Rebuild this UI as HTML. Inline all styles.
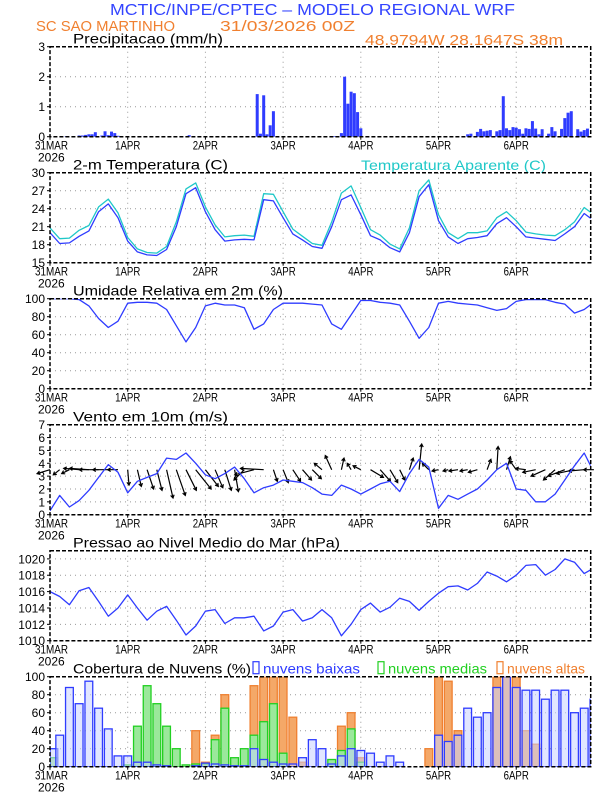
<!DOCTYPE html>
<html><head><meta charset="utf-8">
<style>
html,body{margin:0;padding:0;background:#fff;}
svg{display:block;font-family:"Liberation Sans",sans-serif;}
</style></head>
<body>
<svg id="chart" width="612" height="792" viewBox="0 0 612 792" xmlns="http://www.w3.org/2000/svg">
<text x="110" y="15" font-size="16" fill="#3344ff" textLength="405" lengthAdjust="spacingAndGlyphs">MCTIC/INPE/CPTEC – MODELO REGIONAL WRF</text>
<text x="36" y="31" font-size="15" fill="#f08030" textLength="139" lengthAdjust="spacingAndGlyphs">SC SAO MARTINHO</text>
<text x="220" y="31" font-size="15" fill="#f08030" textLength="135" lengthAdjust="spacingAndGlyphs">31/03/2026 00Z</text>
<text x="365" y="45" font-size="15" fill="#f08030" textLength="198" lengthAdjust="spacingAndGlyphs">48.9794W 28.1647S 38m</text>
</svg>
<script>
// ---------- data ----------
const dayLabels = ["31MAR","1APR","2APR","3APR","4APR","5APR","6APR"];
const precipHours = [5,9,10,11,12,13,14,16,17,18,19,20,21,43,64,65,66,67,68,69,88,90,91,92,93,94,95,96,129,130,132,133,134,135,136,138,139,140,141,142,143,144,145,146,147,148,149,150,151,152,154,155,156,158,159,160,161,163,164,165,166];
const precipVals  = [0.02,0.04,0.04,0.06,0.08,0.08,0.15,0.04,0.18,0.05,0.17,0.12,0.03,0.05,1.42,0.1,1.38,0.08,0.38,0.85,0.02,0.12,2.0,1.1,1.5,1.45,0.82,0.28,0.08,0.1,0.16,0.26,0.18,0.2,0.22,0.18,0.22,1.35,0.28,0.22,0.32,0.3,0.25,0.1,0.28,0.26,0.52,0.27,0.08,0.25,0.1,0.32,0.18,0.26,0.62,0.8,0.85,0.25,0.17,0.22,0.27];
const tempVals = [20,18.2,18.3,19.4,20.3,23.5,24.8,22.5,18.6,16.8,16.3,16.2,17.2,21,26.5,27.5,23.5,20.5,18.6,18.8,18.9,18.8,25.5,25.3,22.5,19.8,18.8,17.7,17.4,21,25.5,26.3,23,19.5,18.8,17.5,16.8,20,26,28,22,19.3,18.2,19,19.2,19.5,21.5,22.5,21,19.3,19.1,18.9,18.7,19.8,21,23.2,22,19.2];
const appTempVals = [20.8,19,19.1,20.4,21.2,24.3,25.6,23.3,19.2,17.3,16.7,16.6,17.7,21.8,27.3,28.3,24.3,21.3,19.3,19.5,19.6,19.4,26.5,26.4,23.5,20.6,19.4,18.2,17.9,21.8,26.6,27.8,24.2,20.5,19.6,18.1,17.3,20.8,27,28.8,23,20,19,20,20,20.3,22.5,23.5,22,20.1,19.8,19.6,19.5,20.5,21.8,24.2,23,20.2];
const rhVals = [100,100,100,99,92,78,68,75,95,96,96,95,88,70,52,68,92,95,93,93,90,66,72,88,95,95,95,94,93,72,66,82,98,98,96,95,93,75,56,68,95,97,95,94,93,90,87,89,97,99,99,99,96,94,84,88,96];
const windSpeed = [0.3,1.5,0.6,1.1,1.9,2.9,3.9,3.3,1.7,2.6,2.9,3.2,4.4,4.3,4.8,4.0,3.1,2.8,3.2,3.7,2.8,1.7,2.1,2.3,2.7,2.6,2.5,2.1,1.6,1.5,2.3,2.0,1.6,2.0,2.4,2.6,1.8,3.2,4.3,3.7,0.5,1.5,1.2,1.6,2.0,2.7,3.5,4.0,2.0,1.9,1.0,1.0,1.6,2.7,3.8,4.8,3.3];
const windU = [-1,-0.5,-0.6,-1.2,-1.5,-1.5,-1.2,-0.8,0.1,0.3,0.5,0.4,0.5,0.7,0.8,1.2,1.0,0.6,0.5,0.3,-0.8,-1.5,-1.8,0.3,0.4,0.6,0.7,0.7,-0.6,-0.5,0.2,-0.3,-0.6,1.0,0.8,0.6,0.4,0.3,0.2,-0.5,-0.5,-0.4,-0.7,-0.6,-0.7,0.3,0.1,0.3,-0.5,-0.8,-1.0,-1.1,-0.9,-1.3,-1.4,-1.2,-0.8];
const windV = [-0.3,-0.4,-0.3,0.1,0.1,0,0,0,-1.2,-1.3,-1.5,-1.6,-2.2,-2.0,-1.6,-1.5,-1.3,-1.4,-1.6,-1.7,-0.8,-0.4,0.1,-0.9,-1.0,-0.9,-0.8,-0.7,0.5,1.1,0.9,0.5,0.3,-0.6,-0.9,-1.0,-0.8,0.9,2.0,0.5,-0.1,-0.1,-0.1,-0.1,-0.2,0.8,1.8,1.0,0.7,0.1,-0.2,-0.5,-0.8,-0.5,-0.3,-0.1,0];
const pressVals = [1016,1015.4,1014.4,1016.1,1016.5,1014.8,1013,1014,1015.6,1014,1012.5,1013.6,1014.2,1012.5,1010.7,1011.8,1013.6,1013.8,1012.1,1012.8,1012.8,1013,1011.2,1011.8,1013.5,1013.8,1012.4,1012.8,1013.8,1012.8,1010.6,1012,1013.8,1014.6,1013.5,1014.1,1015.2,1014.8,1013.7,1014.8,1015.8,1016.6,1016.7,1016.2,1017,1018.4,1017.9,1017.2,1018,1019.2,1019.3,1018,1018.7,1020,1019.6,1018.2,1018.9];
const cloudLow  = [20,35,88,70,95,65,42,12,12,5,5,2,1,0,0,1,4,3,2,1,1,20,8,5,3,3,10,30,20,3,12,20,18,15,5,12,5,0,0,0,35,28,35,65,55,60,88,100,88,85,85,75,85,85,60,65,75];
const cloudMid  = [10,0,0,0,0,0,0,0,2,45,90,70,45,20,2,3,3,30,65,10,20,35,50,70,15,0,0,0,0,8,18,42,5,0,0,0,0,0,0,0,0,0,0,0,0,0,0,0,0,0,0,0,0,0,0,0,0];
const cloudHigh = [0,0,0,0,0,0,0,0,0,0,0,0,22,0,0,40,5,35,80,5,0,90,100,100,100,55,5,0,0,0,45,60,10,0,0,0,0,0,0,20,100,95,40,0,0,0,100,100,100,40,25,0,0,0,0,0,0];
const stepHours = 3;

// ---------- layout ----------
const NS = "http://www.w3.org/2000/svg";
const svg = document.getElementById("chart");
const X0 = 50, X1 = 590.7, HMAX = 167, PH = 90;
const tops = [46.7,172.7,298.7,424.7,550.7,676.7];
const BLUE = "#2f3cff", CYAN = "#1fc8c8", ORANGE = "#f08030", GREEN = "#22d022";
function xS(h){ return X0 + h*(X1-X0)/HMAX; }
function yS(p, v, mn, mx){ return tops[p] + PH - (v-mn)/(mx-mn)*PH; }
function mk(tag, attrs, parent){
  const e = document.createElementNS(NS, tag);
  for (const k in attrs) e.setAttribute(k, attrs[k]);
  (parent||svg).appendChild(e);
  return e;
}

const panels = [
  {min:0,max:3,ticks:[0,1,2,3],title:"Precipitacao (mm/h)",name:"precip",tl:150},
  {min:15,max:30,ticks:[15,18,21,24,27,30],title:"2-m Temperatura (C)",name:"temp",tl:155},
  {min:0,max:100,ticks:[0,20,40,60,80,100],title:"Umidade Relativa em 2m (%)",name:"rh",tl:210},
  {min:0,max:7,ticks:[0,1,2,3,4,5,6,7],title:"Vento em 10m (m/s)",name:"wind",tl:155},
  {min:1010,max:1021,ticks:[1010,1012,1014,1016,1018,1020],title:"Pressao ao Nivel Medio do Mar (hPa)",name:"pressure",tl:267},
  {min:0,max:100,ticks:[0,20,40,60,80,100],title:"Cobertura de Nuvens (%)",name:"cloud",tl:178}
];

panels.forEach((pn, p) => {
  const g = mk("g", {});
  
  
  const top = tops[p], bot = top + PH;
  for (let d = 1; d <= 6; d++){
    const gl = mk("line", {x1:xS(d*24), x2:xS(d*24), y1:top, y2:bot, stroke:"#999", "stroke-width":1, "stroke-dasharray":"1,4"}, g);
    
    
  }
  pn.ticks.forEach(t => {
    const y = yS(p, t, pn.min, pn.max);
    if (t !== pn.min && y > top + 2){
      const gl = mk("line", {x1:X0, x2:X1, y1:y, y2:y, stroke:"#999", "stroke-width":1, "stroke-dasharray":"1,4"}, g);
      
      
    }
    const tl = mk("text", {x:45, y:y+4.5, "text-anchor":"end", "font-size":12, fill:"#000"}, g);
    tl.textContent = t;
    
    
    const tk = mk("line", {x1:X0-3, x2:X0, y1:y, y2:y, stroke:"#000"}, g);
    
    
  });
  dayLabels.forEach((lab, d) => {
    const x = xS(d*24);
    const tx = mk("text", {x:d===0?35:x, y:bot+13, "text-anchor":d===0?"start":"middle", "font-size":12, fill:"#000", "textLength":d===0?33:lab.length*6.3, "lengthAdjust":"spacingAndGlyphs"}, g);
    tx.textContent = lab;
    
    
    const tk = mk("line", {x1:x, x2:x, y1:bot, y2:bot+3, stroke:"#000"}, g);
    
    
  });
  const yr = mk("text", {x:38, y:bot+25, "font-size":12, fill:"#000"}, g);
  yr.textContent = "2026";
  
  
  const tt = mk("text", {x:73, y:top-3, "font-size":14, fill:"#000", textLength:pn.tl, lengthAdjust:"spacingAndGlyphs"}, g);
  tt.textContent = pn.title;
  
  
  pn.g = g;
});

const defs = mk("defs", {});
tops.forEach((t,p) => {
  const cp = mk("clipPath", {id:"clip"+p}, defs);
  mk("rect", {x:X0, y:t, width:X1-X0, height:PH}, cp);
});

// precipitation
precipHours.forEach((h, i) => {
  const y = yS(0, precipVals[i], 0, 3);
  const r = mk("rect", {x:xS(h)-1.5, y:y, width:3, height:tops[0]+PH-y, fill:BLUE}, panels[0].g);
  
  
});

function linePath(p, vals, mn, mx, color, name){
  const d = vals.map((v,i) => (i?"L":"M") + xS(i*stepHours).toFixed(1) + "," + yS(p, v, mn, mx).toFixed(1)).join(" ");
  const path = mk("path", {d:d, fill:"none", stroke:color, "stroke-width":1.3, "stroke-linejoin":"round", "clip-path":"url(#clip"+p+")"}, panels[p].g);
  
  
}
linePath(1, appTempVals, 15, 30, CYAN, 'apparent-temperature-line');
linePath(1, tempVals, 15, 30, BLUE, 'temperature-line');
const la = mk("text", {x:361, y:170, "font-size":14, fill:CYAN, textLength:185, lengthAdjust:"spacingAndGlyphs"}, panels[1].g);
la.textContent = "Temperatura Aparente (C)";


linePath(2, rhVals, 0, 100, BLUE, 'humidity-line');

// wind arrows
const y35 = yS(3, 3.5, 0, 7), K = PH/7;
windU.forEach((u, i) => {
  const x0 = xS(i*stepHours);
  const x1 = x0 + u*K, y1 = y35 - windV[i]*K;
  const ang = Math.atan2(y1-y35, x1-x0);
  const a1 = ang + 2.6, a2 = ang - 2.6;
  const d = `M${x0.toFixed(1)},${y35.toFixed(1)} L${x1.toFixed(1)},${y1.toFixed(1)} M${(x1+3.5*Math.cos(a1)).toFixed(1)},${(y1+3.5*Math.sin(a1)).toFixed(1)} L${x1.toFixed(1)},${y1.toFixed(1)} L${(x1+3.5*Math.cos(a2)).toFixed(1)},${(y1+3.5*Math.sin(a2)).toFixed(1)}`;
  const ar = mk("path", {d:d, fill:"none", stroke:"#000", "stroke-width":1.2}, panels[3].g);
  
  
});
linePath(3, windSpeed, 0, 7, BLUE, 'wind-speed-line');
linePath(4, pressVals, 1010, 1021, BLUE, 'pressure-line');

// clouds
function cloudBars(vals, stroke, fill, name){
  vals.forEach((v, i) => {
    if (v <= 0) return;
    const x = xS(i*stepHours);
    const y = yS(5, v, 0, 100);
    const w = xS(stepHours)-X0;
    const r = mk("rect", {x:Math.max(X0, x-w*0.4), y:y, width:w*0.8, height:tops[5]+PH-y, fill:fill, stroke:stroke, "stroke-width":1.3, "clip-path":"url(#clip5)"}, panels[5].g);
    
    
  });
}
cloudBars(cloudHigh, ORANGE, "#f4a868", 'high-cloud-bar');
cloudBars(cloudMid, GREEN, "#9be89b", 'mid-cloud-bar');
cloudBars(cloudLow, BLUE, "rgba(200,210,255,0.55)", 'low-cloud-bar');

const legendLabels = ["nuvens baixas", "nuvens medias", "nuvens altas"];
const legendColors = [BLUE, GREEN, ORANGE];
const legendX = [253, 378, 497];
const legendW = [97, 99, 78];
legendLabels.forEach((lab, i) => {
  const b = mk("rect", {x:legendX[i], y:tops[5]-15, width:6, height:12, fill:"none", stroke:legendColors[i], "stroke-width":1.2});
  
  
  const t = mk("text", {x:legendX[i]+10, y:tops[5]-3, "font-size":14, fill:legendColors[i], textLength:legendW[i], lengthAdjust:"spacingAndGlyphs"});
  t.textContent = lab;
  
  
});

tops.forEach((t, p) => {
  const f = mk("rect", {x:X0, y:t, width:X1-X0, height:PH, fill:"none", stroke:"#000", "stroke-width":1.5, "stroke-dasharray":"4,2"});
  
  
});
</script>
</body></html>
